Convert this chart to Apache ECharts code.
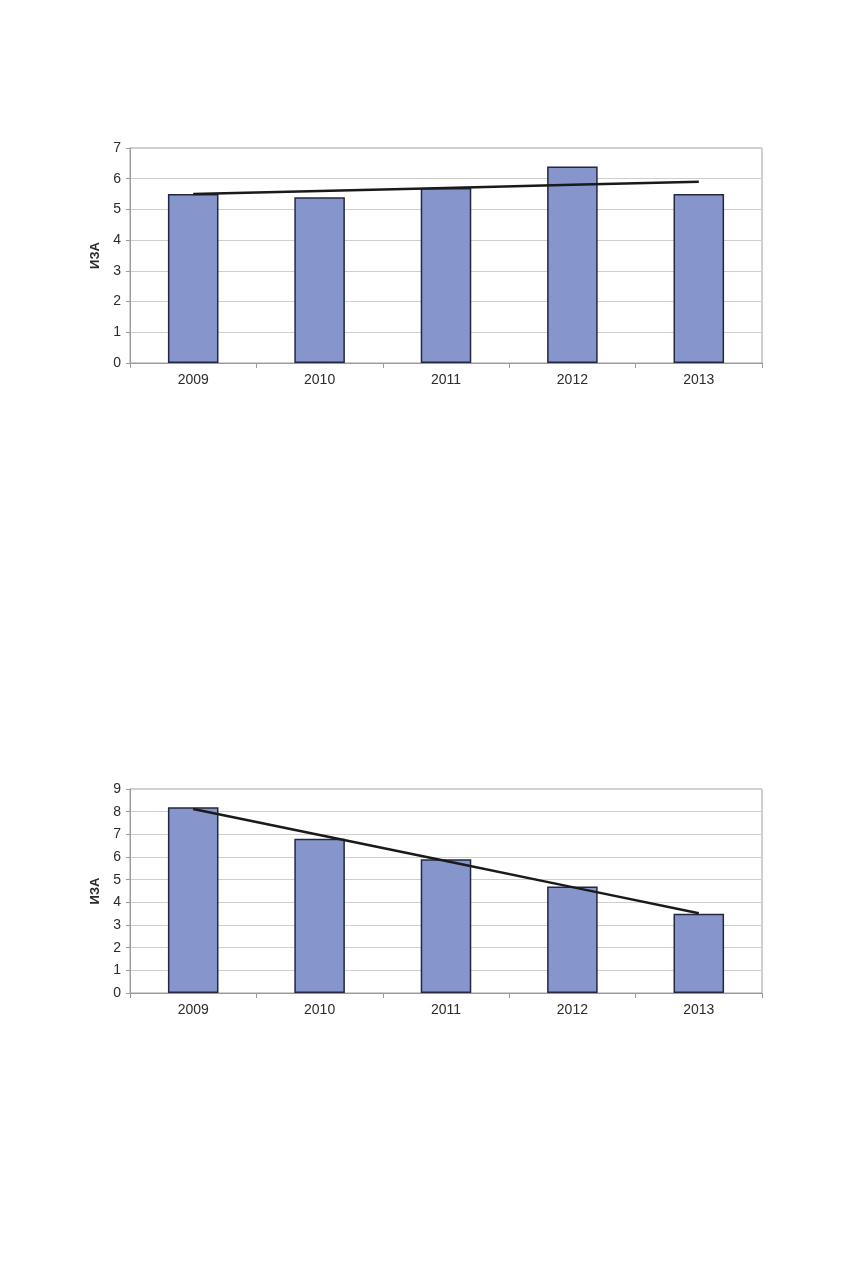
<!DOCTYPE html>
<html>
<head>
<meta charset="utf-8">
<script src="https://cdn.jsdelivr.net/npm/echarts@6/dist/echarts.min.js"></script>
<style>
  html, body { margin: 0; padding: 0; background: #fff; }
  #chart { width: 856px; height: 1268px; }
</style>
</head>
<body>
<div id="chart"></div>
<script>
var years = ['2009', '2010', '2011', '2012', '2013']
var izaTop = [5.5, 5.4, 5.7, 6.4, 5.5]
var trendTop = [5.5, 5.6, 5.7, 5.8, 5.9]
var izaBottom = [8.2, 6.8, 5.9, 4.7, 3.5]
var trendBottom = [8.12, 6.97, 5.82, 4.67, 3.52]
var yTicksTop = [0, 7, 1]
var yTicksBottom = [0, 9, 1]

var chart = echarts.init(document.getElementById('chart'))
var font = 'Liberation Sans, Arial, sans-serif'
var barColor = '#8696cd'
var barBorder = '#232840'

function xAxisFor(i) {
  return {
    type: 'category',
    gridIndex: i,
    data: years,
    boundaryGap: true,
    axisLine: { lineStyle: { color: '#9a9a9a', width: 1 } },
    axisTick: { show: true, alignWithLabel: false, length: 5, lineStyle: { color: '#9a9a9a' } },
    axisLabel: { color: '#2b2b2b', fontSize: 14, fontFamily: font, margin: 10 },
    splitLine: { show: false }
  }
}

function yAxisFor(i, ticks) {
  return {
    type: 'value',
    gridIndex: i,
    min: ticks[0],
    max: ticks[1],
    interval: ticks[2],
    name: 'ИЗА',
    nameLocation: 'middle',
    nameGap: 28,
    nameRotate: 90,
    nameTextStyle: { color: '#2b2b2b', fontSize: 13, fontWeight: 'bold', fontFamily: font },
    axisLine: { show: true, lineStyle: { color: '#9a9a9a' } },
    axisTick: { show: true, length: 4, lineStyle: { color: '#9a9a9a' } },
    axisLabel: { color: '#2b2b2b', fontSize: 14, fontFamily: font, margin: 9 },
    splitLine: { show: true, lineStyle: { color: '#cfcfcf', width: 1 } }
  }
}

function barSeries(i, data) {
  return {
    type: 'bar',
    xAxisIndex: i,
    yAxisIndex: i,
    data: data,
    barWidth: '40%',
    itemStyle: { color: barColor, borderColor: barBorder, borderWidth: 1.5 },
    silent: true
  }
}

function trendSeries(i, data) {
  return {
    type: 'line',
    xAxisIndex: i,
    yAxisIndex: i,
    data: data,
    symbol: 'none',
    lineStyle: { color: '#1a1a1a', width: 2.5 },
    z: 5,
    silent: true
  }
}

var option = {
  backgroundColor: '#ffffff',
  animation: false,
  grid: [
    { left: 130, right: 94, top: 148, height: 215, show: true, borderColor: '#a0a0a0', borderWidth: 1, backgroundColor: 'transparent' },
    { left: 130, right: 94, top: 789, height: 204, show: true, borderColor: '#a0a0a0', borderWidth: 1, backgroundColor: 'transparent' }
  ],
  xAxis: [xAxisFor(0), xAxisFor(1)],
  yAxis: [yAxisFor(0, yTicksTop), yAxisFor(1, yTicksBottom)],
  series: [
    barSeries(0, izaTop),
    trendSeries(0, trendTop),
    barSeries(1, izaBottom),
    trendSeries(1, trendBottom)
  ]
}

chart.setOption(option)
</script>
</body>
</html>
